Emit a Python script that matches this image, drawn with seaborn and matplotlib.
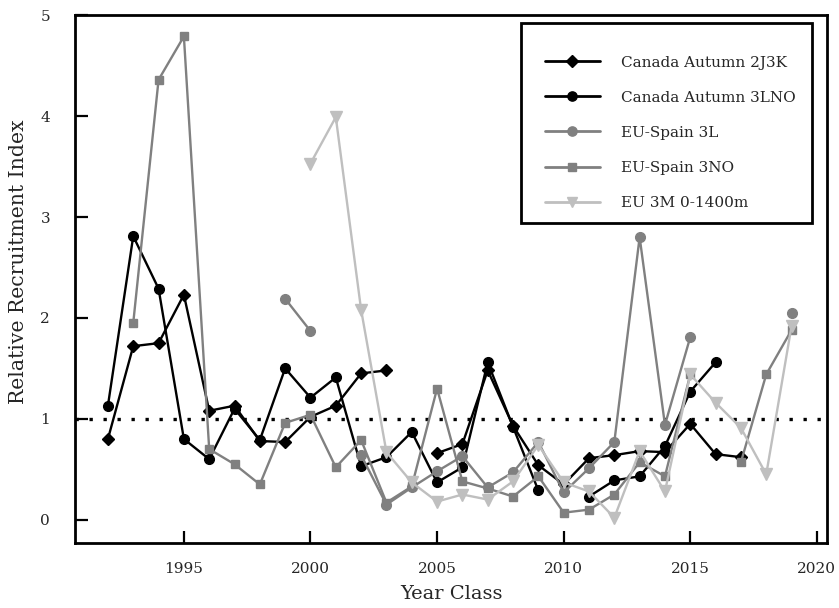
import numpy as np
import pandas as pd
import matplotlib
matplotlib.use("Agg")
import matplotlib.pyplot as plt
import seaborn as sns
from matplotlib.lines import Line2D
from matplotlib.patches import Rectangle

years = list(range(1992, 2020))
nan = np.nan

can_2j3k = [0.80, 1.72, 1.75, 2.23, 1.08, 1.13, 0.78, 0.77, 1.02, 1.13, 1.45, 1.48,
            nan, 0.66, 0.75, 1.48, 0.93, 0.54, 0.35, 0.61, 0.64, 0.68, 0.67, 0.95,
            0.65, 0.62, nan, nan]
can_3lno = [1.13, 2.81, 2.29, 0.80, 0.60, 1.10, 0.79, 1.50, 1.21, 1.41, 0.53, 0.62,
            0.87, 0.37, 0.52, 1.56, 0.92, 0.29, nan, 0.23, 0.39, 0.43, 0.73, 1.27,
            1.56, nan, nan, nan]
eu_3l = [nan, nan, nan, nan, nan, nan, nan, 2.19, 1.87, nan, 0.64, 0.15,
         0.32, 0.48, 0.63, 0.32, 0.47, 0.77, 0.27, 0.51, 0.77, 2.80, 0.94, 1.81,
         nan, nan, nan, 2.05]
eu_3no = [nan, 1.95, 4.36, 4.79, 0.70, 0.55, 0.35, 0.96, 1.04, 0.52, 0.79, 0.17,
          0.33, 1.30, 0.38, 0.31, 0.23, 0.43, 0.07, 0.10, 0.25, 0.57, 0.43, 1.44,
          nan, 0.57, 1.44, 1.88]
eu_3m = [nan, nan, nan, nan, nan, nan, nan, nan, 3.53, 3.99, 2.08, 0.67,
         0.37, 0.18, 0.25, 0.20, 0.38, 0.74, 0.37, 0.28, 0.02, 0.68, 0.28, 1.44,
         1.16, 0.91, 0.45, 1.92]

series_names = ["Canada Autumn 2J3K", "Canada Autumn 3LNO", "EU-Spain 3L",
                "EU-Spain 3NO", "EU 3M 0-1400m"]
series_vals = [can_2j3k, can_3lno, eu_3l, eu_3no, eu_3m]
colors = ["#000000", "#000000", "#808080", "#808080", "#bfbfbf"]
markers = ["D", "o", "o", "s", "v"]
msizes = [6.5, 7, 7, 6, 8]

rows = []
for name, vals in zip(series_names, series_vals):
    seg = 0
    prev_nan = True
    for yr, v in zip(years, vals):
        if np.isnan(v):
            prev_nan = True
            continue
        if prev_nan:
            seg += 1
        prev_nan = False
        rows.append({"year": yr, "value": v, "series": name, "seg": f"{name}_{seg}"})
df = pd.DataFrame(rows)

sns.set_style("white")
plt.rcParams["font.family"] = ["DejaVu Serif"]
plt.rcParams["xtick.bottom"] = True
plt.rcParams["ytick.left"] = True
plt.rcParams["xtick.direction"] = "in"
plt.rcParams["ytick.direction"] = "in"

W, H = 839, 608
fig = plt.figure(figsize=(W / 100, H / 100), dpi=100)
ax = fig.add_axes([0.0894, 0.107, 0.8963, 0.868])

ax.axhline(1.0, color="black", linestyle=(0, (1, 3.2)), linewidth=2.4, zorder=1)

for name, c, m, ms in zip(series_names, colors, markers, msizes):
    sub = df[df["series"] == name]
    sns.lineplot(data=sub, x="year", y="value", units="seg", estimator=None,
                 color=c, marker=m, markersize=ms, markeredgecolor=c,
                 markeredgewidth=1, linewidth=1.7, ax=ax, legend=False, sort=True)

ax.set_xlim(1990.7, 2020.4)
ax.set_ylim(-0.23, 5.0)
ax.set_xticks([1995, 2000, 2005, 2010, 2015, 2020])
ax.set_yticks([0, 1, 2, 3, 4, 5])
ax.tick_params(direction="in", length=9, width=1.6, labelsize=11, color="black",
               bottom=True, left=True, top=False, right=False)
ax.tick_params(axis="y", pad=18)
ax.tick_params(axis="x", pad=14)
for sp in ax.spines.values():
    sp.set_visible(True)
    sp.set_color("black")
    sp.set_linewidth(2)
ax.set_xlabel("Year Class", fontsize=14, labelpad=6)
ax.set_ylabel("Relative Recruitment Index", fontsize=14.7)
ax.yaxis.set_label_coords(-0.0625, 0.532)

# legend frame
frame = Rectangle((521 / W, 1 - 223 / H), 291 / W, 200 / H, transform=fig.transFigure,
                  facecolor="white", edgecolor="black", linewidth=2, zorder=4,
                  clip_on=False)
ax.add_artist(frame)

handles = [Line2D([0], [0], color=c, marker=m, markersize=ms * 0.95, linewidth=2)
           for c, m, ms in zip(colors, markers, msizes)]
leg = ax.legend(handles, series_names, loc="upper left",
                bbox_to_anchor=(537.3 / W, 1 - 48.0 / H), bbox_transform=fig.transFigure,
                fontsize=11, frameon=False,
                labelspacing=1.38, handlelength=3.6, handletextpad=1.4,
                borderpad=0.5, borderaxespad=0.0)
leg.set_zorder(5)

fig.savefig("out.png", dpi=100)
